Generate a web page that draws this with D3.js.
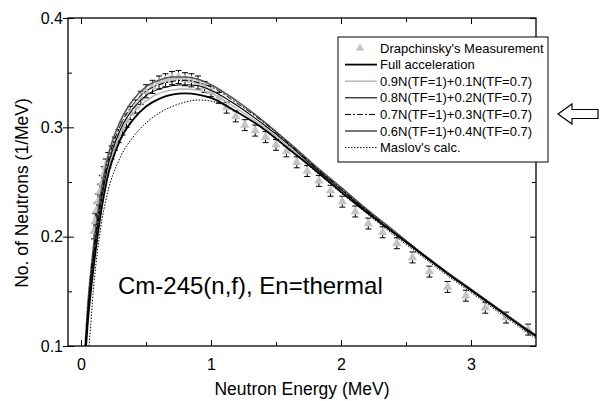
<!DOCTYPE html>
<html>
<head>
<meta charset="utf-8">
<script src="https://cdn.jsdelivr.net/npm/d3@7"></script>
<style>
  body { margin: 0; background: #fff; }
  text { font-family: "Liberation Sans", Arial, sans-serif; }
</style>
</head>
<body>
<div id="graph-container"></div>
<script>
// Energy grid for the calculated spectra (MeV)
var calcE = [0.03, 0.05, 0.1, 0.15, 0.2, 0.3, 0.4, 0.5, 0.6, 0.7, 0.8, 0.9, 1.0, 1.2, 1.4, 1.6, 1.8, 2.0, 2.2, 2.4, 2.6, 2.8, 3.0, 3.2, 3.4, 3.5];

// Calculated spectra (1/MeV)
var fullAcc = [0.085, 0.118, 0.175, 0.219, 0.252, 0.288, 0.307, 0.319, 0.326, 0.330, 0.331, 0.330, 0.327, 0.314, 0.299, 0.280, 0.261, 0.241, 0.222, 0.204, 0.186, 0.168, 0.151, 0.134, 0.117, 0.109];
var mix09 = [0.088, 0.122, 0.180, 0.223, 0.256, 0.293, 0.313, 0.324, 0.331, 0.334, 0.335, 0.334, 0.331, 0.317, 0.301, 0.282, 0.262, 0.242, 0.223, 0.204, 0.186, 0.168, 0.151, 0.134, 0.117, 0.109];
var mix08 = [0.091, 0.126, 0.185, 0.228, 0.261, 0.297, 0.317, 0.329, 0.335, 0.338, 0.339, 0.338, 0.334, 0.320, 0.303, 0.284, 0.263, 0.243, 0.223, 0.204, 0.186, 0.168, 0.151, 0.134, 0.117, 0.109];
var mix07 = [0.094, 0.130, 0.190, 0.233, 0.265, 0.301, 0.321, 0.333, 0.339, 0.342, 0.343, 0.341, 0.337, 0.322, 0.305, 0.285, 0.264, 0.244, 0.224, 0.205, 0.186, 0.168, 0.151, 0.134, 0.117, 0.109];
var mix06 = [0.097, 0.134, 0.195, 0.238, 0.270, 0.305, 0.325, 0.337, 0.343, 0.346, 0.346, 0.344, 0.339, 0.324, 0.306, 0.286, 0.265, 0.245, 0.225, 0.206, 0.187, 0.169, 0.152, 0.135, 0.118, 0.110];
var maslov = [0.070, 0.085, 0.158, 0.207, 0.238, 0.272, 0.291, 0.304, 0.313, 0.319, 0.323, 0.325, 0.324, 0.314, 0.299, 0.280, 0.260, 0.240, 0.221, 0.202, 0.184, 0.166, 0.149, 0.132, 0.115, 0.107];

// Drapchinsky's measurement
var measE = [0.10, 0.11, 0.12, 0.13, 0.145, 0.16, 0.175, 0.19, 0.21, 0.235, 0.26, 0.29, 0.32, 0.35, 0.38, 0.42, 0.46, 0.50, 0.55, 0.60, 0.65, 0.70, 0.75, 0.80, 0.85, 0.90, 0.95, 1.00, 1.06, 1.12, 1.19, 1.26, 1.34, 1.42, 1.50, 1.58, 1.66, 1.74, 1.83, 1.92, 2.01, 2.11, 2.21, 2.32, 2.43, 2.55, 2.68, 2.82, 2.96, 3.11, 3.27, 3.44];
var measV = [0.205, 0.214, 0.224, 0.232, 0.241, 0.249, 0.257, 0.264, 0.270, 0.277, 0.285, 0.292, 0.299, 0.306, 0.313, 0.319, 0.327, 0.333, 0.337, 0.341, 0.343, 0.345, 0.346, 0.344, 0.343, 0.341, 0.337, 0.333, 0.327, 0.318, 0.310, 0.302, 0.297, 0.291, 0.284, 0.278, 0.268, 0.260, 0.251, 0.242, 0.232, 0.223, 0.212, 0.204, 0.194, 0.181, 0.168, 0.154, 0.146, 0.135, 0.126, 0.115];
var measErr = [0.007, 0.007, 0.007, 0.007, 0.007, 0.007, 0.007, 0.007, 0.007, 0.006, 0.006, 0.006, 0.006, 0.006, 0.006, 0.006, 0.006, 0.006, 0.006, 0.006, 0.006, 0.006, 0.006, 0.006, 0.006, 0.006, 0.005, 0.005, 0.005, 0.005, 0.005, 0.005, 0.005, 0.005, 0.005, 0.005, 0.005, 0.005, 0.005, 0.005, 0.005, 0.005, 0.005, 0.005, 0.005, 0.005, 0.005, 0.005, 0.005, 0.005, 0.005, 0.005];

var xTicks = [0, 1, 2, 3];
var xMinor = [0.5, 1.5, 2.5];
var yTicks = [0.1, 0.2, 0.3, 0.4];
var yMinor = [0.15, 0.25, 0.35];

var legendLabels = ["Drapchinsky's Measurement", "Full acceleration", "0.9N(TF=1)+0.1N(TF=0.7)", "0.8N(TF=1)+0.2N(TF=0.7)", "0.7N(TF=1)+0.3N(TF=0.7)", "0.6N(TF=1)+0.4N(TF=0.7)", "Maslov's calc."];

var svgWidth = 601;
var svgHeight = 401;
var margin = { top: 18, right: 65, bottom: 55, left: 68 };
var chartWidth = svgWidth - margin.left - margin.right;
var chartHeight = svgHeight - margin.top - margin.bottom;

var svg = d3.select("#graph-container")
  .append("svg")
  .attr("width", svgWidth)
  .attr("height", svgHeight);

var chart = svg.append("g")
  .attr("transform", "translate(" + margin.left + "," + margin.top + ")");

var xScale = d3.scaleLinear().domain([-0.1, 3.5]).range([0, chartWidth]);
var yScale = d3.scaleLinear().domain([0.1, 0.4]).range([chartHeight, 0]);

// clip for curves
svg.append("defs").append("clipPath").attr("id", "plotclip")
  .append("rect").attr("width", chartWidth).attr("height", chartHeight);

var plot = chart.append("g").attr("clip-path", "url(#plotclip)");

// Curve styles
var series = [
  { vals: mix09, color: "#b4b4b4", width: 1.4, dash: null },
  { vals: mix06, color: "#555", width: 1.6, dash: null },
  { vals: mix08, color: "#000", width: 1.1, dash: null },
  { vals: mix07, color: "#000", width: 1.0, dash: "6,2,2,2" },
  { vals: fullAcc, color: "#000", width: 1.8, dash: null },
  { vals: maslov, color: "#000", width: 1.0, dash: "1.5,1.5" }
];

var line = d3.line()
  .x(function (d, i) { return xScale(calcE[i]); })
  .y(function (d) { return yScale(d); })
  .curve(d3.curveMonotoneX);

// Error bars
var meas = measE.map(function (e, i) { return { e: e, v: measV[i], err: measErr[i] }; });
var eb = plot.selectAll(".eb").data(meas).enter().append("g").attr("class", "eb")
  .attr("stroke", "#000").attr("stroke-width", 1);
eb.append("line")
  .attr("x1", function (d) { return xScale(d.e); })
  .attr("x2", function (d) { return xScale(d.e); })
  .attr("y1", function (d) { return yScale(d.v - d.err); })
  .attr("y2", function (d) { return yScale(d.v + d.err); });
eb.append("line")
  .attr("x1", function (d) { return xScale(d.e) - 3; })
  .attr("x2", function (d) { return xScale(d.e) + 3; })
  .attr("y1", function (d) { return yScale(d.v + d.err); })
  .attr("y2", function (d) { return yScale(d.v + d.err); });
eb.append("line")
  .attr("x1", function (d) { return xScale(d.e) - 3; })
  .attr("x2", function (d) { return xScale(d.e) + 3; })
  .attr("y1", function (d) { return yScale(d.v - d.err); })
  .attr("y2", function (d) { return yScale(d.v - d.err); });

// Triangles
var tri = d3.symbol().type(d3.symbolTriangle).size(38);
plot.selectAll(".tri").data(meas).enter().append("path")
  .attr("class", "tri")
  .attr("d", tri)
  .attr("transform", function (d) { return "translate(" + xScale(d.e) + "," + yScale(d.v) + ")"; })
  .attr("fill", "#c4c4c4");

// Calculated curves
series.forEach(function (s) {
  plot.append("path")
    .attr("d", line(s.vals))
    .attr("fill", "none")
    .attr("stroke", s.color)
    .attr("stroke-width", s.width)
    .attr("stroke-dasharray", s.dash);
});

// Axes
function styleAxis(g) {
  g.select(".domain").remove();
  g.selectAll("line").attr("stroke", "#000").attr("stroke-width", 1);
  g.selectAll("text").attr("font-size", 16).attr("fill", "#000")
    .style("font-family", "'Liberation Sans', Arial, sans-serif");
}

chart.append("g").attr("transform", "translate(0," + chartHeight + ")")
  .call(d3.axisBottom(xScale).tickValues(xTicks).tickSize(-6).tickPadding(13).tickFormat(d3.format("d")))
  .call(styleAxis);
chart.append("g").attr("transform", "translate(0," + chartHeight + ")")
  .call(d3.axisBottom(xScale).tickValues(xMinor).tickSize(-4).tickFormat(""))
  .call(styleAxis);
chart.append("g")
  .call(d3.axisTop(xScale).tickValues(xTicks).tickSize(-6).tickFormat(""))
  .call(styleAxis);
chart.append("g")
  .call(d3.axisTop(xScale).tickValues(xMinor).tickSize(-4).tickFormat(""))
  .call(styleAxis);

chart.append("g")
  .call(d3.axisLeft(yScale).tickValues(yTicks).tickSize(5).tickPadding(0).tickFormat(d3.format(".1f")))
  .call(styleAxis);
chart.append("g")
  .call(d3.axisLeft(yScale).tickValues(yTicks).tickSize(-6).tickFormat(""))
  .call(styleAxis);
chart.append("g")
  .call(d3.axisLeft(yScale).tickValues(yMinor).tickSize(-4).tickFormat(""))
  .call(styleAxis);
chart.append("g").attr("transform", "translate(" + chartWidth + ",0)")
  .call(d3.axisRight(yScale).tickValues(yTicks).tickSize(-6).tickFormat(""))
  .call(styleAxis);
chart.append("g").attr("transform", "translate(" + chartWidth + ",0)")
  .call(d3.axisRight(yScale).tickValues(yMinor).tickSize(-4).tickFormat(""))
  .call(styleAxis);

// Frame
chart.append("rect")
  .attr("width", chartWidth).attr("height", chartHeight)
  .attr("fill", "none").attr("stroke", "#000").attr("stroke-width", 1.3);

// Axis titles
svg.append("text")
  .attr("x", 302)
  .attr("y", 395)
  .attr("text-anchor", "middle")
  .attr("font-size", 17.5)
  .text("Neutron Energy (MeV)");

svg.append("text")
  .attr("transform", "translate(28,193) rotate(-90)")
  .attr("text-anchor", "middle")
  .attr("font-size", 17.5)
  .text("No. of Neutrons (1/MeV)");

// Annotation
svg.append("text")
  .attr("x", 118)
  .attr("y", 294)
  .attr("font-size", 24)
  .text("Cm-245(n,f), En=thermal");

// Legend
var legend = svg.append("g").attr("transform", "translate(338,37)");
legend.append("rect")
  .attr("width", 210).attr("height", 125)
  .attr("fill", "#fff").attr("stroke", "#000").attr("stroke-width", 1);

var legendStyles = [
  null,
  { color: "#000", width: 1.8, dash: null },
  { color: "#b4b4b4", width: 1.4, dash: null },
  { color: "#000", width: 1.1, dash: null },
  { color: "#000", width: 1.0, dash: "6,2,2,2" },
  { color: "#555", width: 1.6, dash: null },
  { color: "#000", width: 1.0, dash: "1.5,1.5" }
];

var rows = legend.selectAll(".row").data(legendLabels).enter().append("g")
  .attr("class", "row")
  .attr("transform", function (d, i) { return "translate(0," + (11 + i * 16.6) + ")"; });

rows.append("text")
  .attr("x", 42)
  .attr("y", 4.5)
  .attr("font-size", 13)
  .text(function (d) { return d; });

rows.each(function (d, i) {
  var g = d3.select(this);
  if (i === 0) {
    g.append("path").attr("d", d3.symbol().type(d3.symbolTriangle).size(30))
      .attr("transform", "translate(22,0)").attr("fill", "#c4c4c4");
  } else {
    var st = legendStyles[i];
    g.append("line").attr("x1", 7).attr("x2", 39).attr("y1", 0).attr("y2", 0)
      .attr("stroke", st.color).attr("stroke-width", st.width)
      .attr("stroke-dasharray", st.dash);
  }
});

// Hollow arrow pointing at the legend
svg.append("path")
  .attr("d", "M558,114 L572,104 L572,109.5 L598,109.5 L598,118.5 L572,118.5 L572,124 Z")
  .attr("fill", "#fff").attr("stroke", "#000").attr("stroke-width", 1.2);
</script>
</body>
</html>
